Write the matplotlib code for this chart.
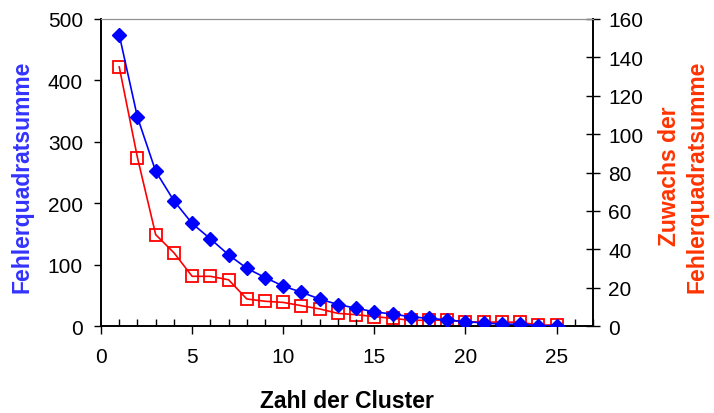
import numpy as np
import matplotlib.pyplot as plt
from matplotlib.ticker import MultipleLocator

plt.rcParams['font.family'] = ['Liberation Sans', 'DejaVu Sans']

# Daten
cluster = np.arange(1, 26)
fqs = [474, 340, 252, 204, 167, 142, 116, 94, 79, 65, 55, 44, 35, 29, 23,
       19.5, 15, 12.5, 10, 7, 5, 3, 3, 0.5, 0.5]
zuwachs = [135, 87.7, 47.6, 38.2, 25.9, 25.9, 24.1, 14.1, 12.9, 12.3, 10.6, 8.9,
           6.6, 5.9, 4.9, 4.0, 3.0, 3.0, 3.0, 2.2, 2.1, 2.0, 2.0, 0.5, 0.5]

fig = plt.figure(figsize=(7.14, 4.14), dpi=100)
ax = fig.add_axes([0.1415, 0.2101, 0.689, 0.7416])
ax2 = ax.twinx()

ax.plot(cluster, fqs, color='#0000FF', marker='D', markersize=7.5, lw=1.2, zorder=3)
ax2.plot(cluster, zuwachs, color='#FF0000', marker='s', markersize=8.5,
         markerfacecolor='none', markeredgewidth=1.3, lw=1.2)
ax.set_zorder(ax2.get_zorder() + 1)
ax.patch.set_visible(False)

ax.set_xlim(0, 27)
ax.set_ylim(0, 500)
ax2.set_ylim(0, 160)
ax.set_xticks([0, 5, 10, 15, 20, 25])
ax.xaxis.set_minor_locator(MultipleLocator(1))
ax.set_yticks([0, 100, 200, 300, 400, 500])
ax2.set_yticks(range(0, 161, 20))

ax.tick_params(axis='x', which='major', direction='out', length=6, width=1, labelsize=15, pad=9)
ax.tick_params(axis='x', which='minor', direction='in', length=5, width=1)
ax.tick_params(axis='y', direction='out', length=5, width=1, labelsize=15, pad=8)
ax2.tick_params(axis='y', direction='inout', length=10, width=1, labelsize=15, pad=6)

for a in (ax, ax2):
    a.spines['top'].set_color('#909090')
    for s in ('left', 'right', 'bottom'):
        a.spines[s].set_linewidth(1.2)

ax.set_xlabel('Zahl der Cluster', fontsize=16.5, fontweight='bold')
ax.xaxis.set_label_coords(0.5, -0.205)
ax.set_ylabel('Fehlerquadratsumme', fontsize=16.5, fontweight='bold', color='#3333FF')
ax.yaxis.set_label_coords(-0.138, 0.49)
ax2.set_ylabel('Zuwachs der\nFehlerquadratsumme', fontsize=16.5, fontweight='bold',
               color='#FF3300', linespacing=1.25)
ax2.yaxis.set_label_coords(1.132, 0.49)

fig.savefig('out.png', dpi=100)
